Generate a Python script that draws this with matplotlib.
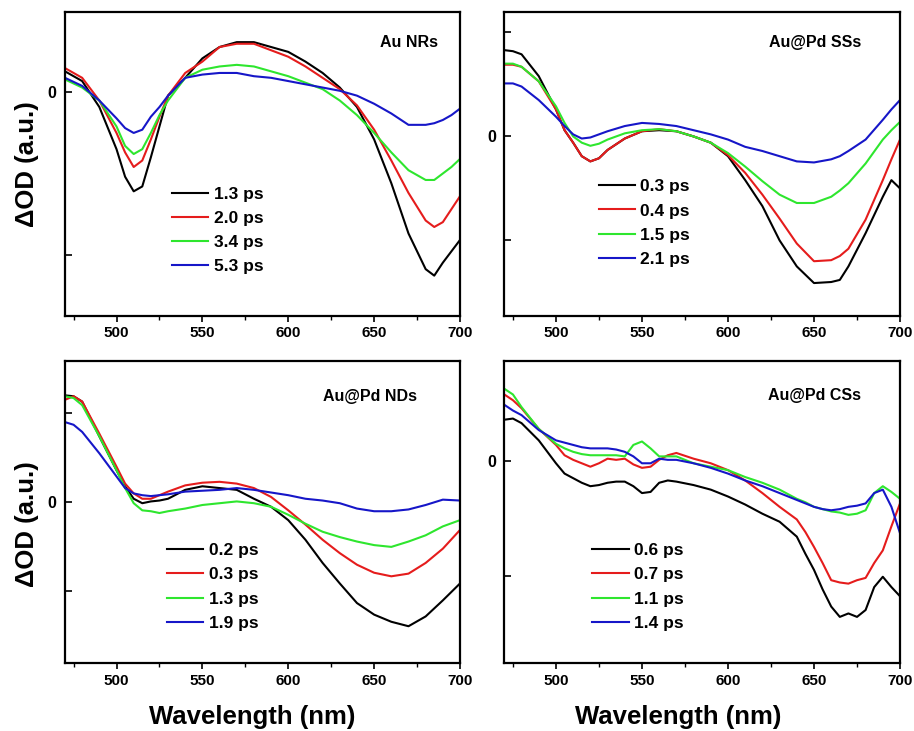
import matplotlib
matplotlib.use("Agg")
import matplotlib.pyplot as plt

plt.rcParams['font.family'] = ['Liberation Sans', 'DejaVu Sans']
plt.rcParams['font.weight'] = 'bold'

colors = ['black', '#e51c1c', '#2ee62e', '#1616c8']

# Au NRs
wl_nrs = [470, 480, 490, 500, 505, 510, 515, 520, 525, 530, 540, 550, 560, 570, 580,
          590, 600, 610, 620, 630, 640, 650, 660, 670, 680, 685, 690, 695, 700]
nrs_labels = ['1.3 ps', '2.0 ps', '3.4 ps', '5.3 ps']
nrs_13 = [0.13, 0.07, -0.09, -0.35, -0.52, -0.61, -0.58, -0.40, -0.21, -0.02, 0.09, 0.21, 0.28, 0.31, 0.31,
          0.28, 0.25, 0.19, 0.12, 0.03, -0.09, -0.29, -0.56, -0.87, -1.09, -1.13, -1.05, -0.98, -0.91]
nrs_20 = [0.15, 0.09, -0.05, -0.25, -0.37, -0.46, -0.42, -0.29, -0.15, -0.02, 0.12, 0.19, 0.28, 0.30, 0.30,
          0.26, 0.22, 0.16, 0.09, 0.02, -0.08, -0.23, -0.42, -0.62, -0.79, -0.83, -0.80, -0.72, -0.64]
nrs_34 = [0.08, 0.03, -0.05, -0.21, -0.33, -0.38, -0.35, -0.25, -0.14, -0.05, 0.09, 0.14, 0.16, 0.17, 0.16,
          0.13, 0.10, 0.06, 0.02, -0.05, -0.14, -0.25, -0.37, -0.48, -0.54, -0.54, -0.50, -0.46, -0.41]
nrs_53 = [0.09, 0.04, -0.05, -0.16, -0.22, -0.25, -0.23, -0.15, -0.09, -0.02, 0.09, 0.11, 0.12, 0.12, 0.10,
          0.09, 0.07, 0.05, 0.03, 0.01, -0.02, -0.07, -0.13, -0.20, -0.20, -0.19, -0.17, -0.14, -0.10]

# Au@Pd SSs
wl_sss = [470, 475, 480, 490, 500, 505, 510, 515, 520, 525, 530, 540, 550, 560, 570, 580,
          590, 600, 610, 620, 630, 640, 650, 660, 665, 670, 680, 690, 695, 700]
sss_labels = ['0.3 ps', '0.4 ps', '1.5 ps', '2.1 ps']
sss_03 = [0.83, 0.82, 0.79, 0.58, 0.26, 0.06, -0.06, -0.19, -0.24, -0.21, -0.13, -0.02, 0.05, 0.06, 0.05, 0.00,
          -0.06, -0.19, -0.42, -0.67, -1.00, -1.25, -1.41, -1.40, -1.38, -1.25, -0.93, -0.58, -0.42, -0.50]
sss_04 = [0.69, 0.69, 0.67, 0.53, 0.26, 0.06, -0.06, -0.19, -0.24, -0.21, -0.13, -0.02, 0.05, 0.07, 0.05, 0.00,
          -0.06, -0.18, -0.35, -0.56, -0.79, -1.03, -1.20, -1.19, -1.15, -1.08, -0.80, -0.42, -0.22, -0.03]
sss_15 = [0.70, 0.70, 0.67, 0.53, 0.29, 0.13, 0.00, -0.06, -0.09, -0.07, -0.03, 0.03, 0.06, 0.07, 0.05, 0.00,
          -0.06, -0.16, -0.29, -0.43, -0.56, -0.64, -0.64, -0.58, -0.52, -0.45, -0.26, -0.03, 0.06, 0.14]
sss_21 = [0.51, 0.51, 0.48, 0.35, 0.19, 0.10, 0.02, -0.02, -0.01, 0.02, 0.05, 0.10, 0.13, 0.12, 0.10, 0.06,
          0.02, -0.03, -0.10, -0.14, -0.19, -0.24, -0.25, -0.22, -0.19, -0.14, -0.03, 0.16, 0.26, 0.35]

# Au@Pd NDs
wl_nds = [470, 475, 480, 490, 500, 505, 510, 515, 520, 525, 530, 540, 550, 560, 570, 580,
          590, 600, 610, 620, 630, 640, 650, 660, 670, 680, 690, 700]
nds_labels = ['0.2 ps', '0.3 ps', '1.3 ps', '1.9 ps']
nds_02 = [1.20, 1.19, 1.13, 0.74, 0.36, 0.18, 0.04, -0.01, 0.01, 0.02, 0.04, 0.14, 0.18, 0.16, 0.14, 0.04,
          -0.05, -0.20, -0.42, -0.68, -0.91, -1.13, -1.26, -1.34, -1.39, -1.28, -1.10, -0.91]
nds_03 = [1.15, 1.19, 1.13, 0.77, 0.40, 0.21, 0.10, 0.04, 0.04, 0.08, 0.12, 0.19, 0.22, 0.23, 0.21, 0.16,
          0.06, -0.09, -0.25, -0.42, -0.57, -0.70, -0.79, -0.83, -0.80, -0.68, -0.52, -0.31]
nds_13 = [1.19, 1.17, 1.09, 0.74, 0.36, 0.16, -0.01, -0.09, -0.10, -0.12, -0.10, -0.07, -0.03, -0.01, 0.01, -0.01,
          -0.05, -0.14, -0.24, -0.33, -0.39, -0.44, -0.48, -0.50, -0.44, -0.37, -0.27, -0.20]
nds_19 = [0.90, 0.87, 0.79, 0.55, 0.29, 0.16, 0.10, 0.08, 0.07, 0.08, 0.09, 0.12, 0.13, 0.14, 0.16, 0.14,
          0.11, 0.08, 0.04, 0.02, -0.01, -0.07, -0.10, -0.10, -0.08, -0.03, 0.03, 0.02]

# Au@Pd CSs
wl_css = [470, 475, 480, 490, 500, 505, 510, 515, 520, 525, 530, 535, 540, 545, 550, 555, 560, 565, 570,
          580, 590, 600, 610, 620, 630, 640, 645, 650, 655, 660, 665, 670, 675, 680, 685, 690, 695, 700]
css_labels = ['0.6 ps', '0.7 ps', '1.1 ps', '1.4 ps']
css_06 = [0.36, 0.37, 0.33, 0.18, -0.02, -0.11, -0.15, -0.19, -0.22, -0.21, -0.19, -0.18, -0.18, -0.22, -0.28, -0.27, -0.19, -0.17, -0.18,
          -0.21, -0.25, -0.31, -0.38, -0.46, -0.53, -0.66, -0.81, -0.95, -1.12, -1.27, -1.36, -1.33, -1.36, -1.30, -1.10, -1.01, -1.10, -1.18]
css_07 = [0.58, 0.53, 0.46, 0.28, 0.14, 0.05, 0.01, -0.02, -0.05, -0.02, 0.02, 0.01, 0.02, -0.03, -0.06, -0.05, 0.01, 0.05, 0.07,
          0.02, -0.02, -0.08, -0.17, -0.28, -0.40, -0.51, -0.62, -0.75, -0.89, -1.04, -1.06, -1.07, -1.04, -1.02, -0.89, -0.78, -0.57, -0.37]
css_11 = [0.63, 0.58, 0.47, 0.28, 0.15, 0.11, 0.08, 0.06, 0.05, 0.05, 0.05, 0.05, 0.04, 0.14, 0.17, 0.11, 0.04, 0.04, 0.04,
          -0.02, -0.05, -0.08, -0.14, -0.19, -0.25, -0.33, -0.36, -0.40, -0.42, -0.44, -0.45, -0.47, -0.46, -0.43, -0.28, -0.22, -0.27, -0.33]
css_14 = [0.49, 0.44, 0.40, 0.27, 0.18, 0.16, 0.14, 0.12, 0.11, 0.11, 0.11, 0.10, 0.08, 0.04, -0.02, -0.02, 0.02, 0.01, 0.01,
          -0.02, -0.06, -0.11, -0.17, -0.22, -0.28, -0.34, -0.37, -0.40, -0.42, -0.43, -0.42, -0.40, -0.39, -0.37, -0.28, -0.25, -0.40, -0.63]

panels = [
    (wl_nrs, [nrs_13, nrs_20, nrs_34, nrs_53], nrs_labels, 'Au NRs', (-1.379, 0.496), [-1, 0]),
    (wl_sss, [sss_03, sss_04, sss_15, sss_21], sss_labels, 'Au@Pd SSs', (-1.727, 1.197), [-1, 0, 1]),
    (wl_nds, [nds_02, nds_03, nds_13, nds_19], nds_labels, 'Au@Pd NDs', (-1.806, 1.589), [-1, 0, 1]),
    (wl_css, [css_06, css_07, css_11, css_14], css_labels, 'Au@Pd CSs', (-1.765, 0.875), [-1, 0]),
]

# axes rectangles in figure fractions
rects = [
    [0.0711, 0.5677, 0.4322, 0.4159],
    [0.5518, 0.5677, 0.4329, 0.4159],
    [0.0711, 0.0926, 0.4322, 0.4140],
    [0.5518, 0.0926, 0.4329, 0.4140],
]
title_pos = [(0.871, 0.898), (0.785, 0.898), (0.772, 0.881), (0.784, 0.884)]
legend_pos = [(0.271, 0.425), (0.238, 0.450), (0.258, 0.397), (0.222, 0.397)]

fig = plt.figure(figsize=(9.14, 7.31), dpi=100)

for i, (wl, series, labels, name, ylim, yticks) in enumerate(panels):
    ax = fig.add_axes(rects[i])
    for s, lab, c in zip(series, labels, colors):
        ax.plot(wl, s, color=c, lw=1.5, label=lab)
    ax.set_xlim(470, 700)
    ax.set_ylim(*ylim)
    ax.set_xticks([500, 550, 600, 650, 700])
    ax.set_xticks([475, 525, 575, 625, 675], minor=True)
    ax.set_yticks(yticks)
    ax.set_yticklabels(['0' if t == 0 else '' for t in yticks])
    ax.tick_params(axis='x', which='major', direction='out', length=4.5, width=1.2,
                   labelsize=11, pad=3)
    ax.tick_params(axis='x', which='minor', direction='out', length=3, width=1.0)
    ax.tick_params(axis='y', direction='in', length=5, width=1.2, labelsize=11.5, pad=6)
    for sp in ax.spines.values():
        sp.set_linewidth(1.6)
    ax.text(title_pos[i][0], title_pos[i][1], name, transform=ax.transAxes,
            ha='center', va='center', fontsize=11.5, fontweight='bold')
    ax.legend(loc='upper left', bbox_to_anchor=legend_pos[i], frameon=False,
              borderaxespad=0, borderpad=0, handlelength=2.1, handletextpad=0.3,
              labelspacing=0.52, prop={'size': 12.5, 'weight': 'bold'})
    if i in (0, 2):
        ax.set_ylabel('ΔOD (a.u.)', fontsize=18.5, fontweight='bold', va='center')
        ax.yaxis.set_label_coords(-0.096, 0.5 if i == 0 else 0.46)
    if i in (2, 3):
        ax.set_xlabel('Wavelength (nm)', fontsize=18.5, fontweight='bold', va='center')
        ax.xaxis.set_label_coords(0.475 if i == 2 else 0.44, -0.178)

fig.savefig('out.png', dpi=100)
